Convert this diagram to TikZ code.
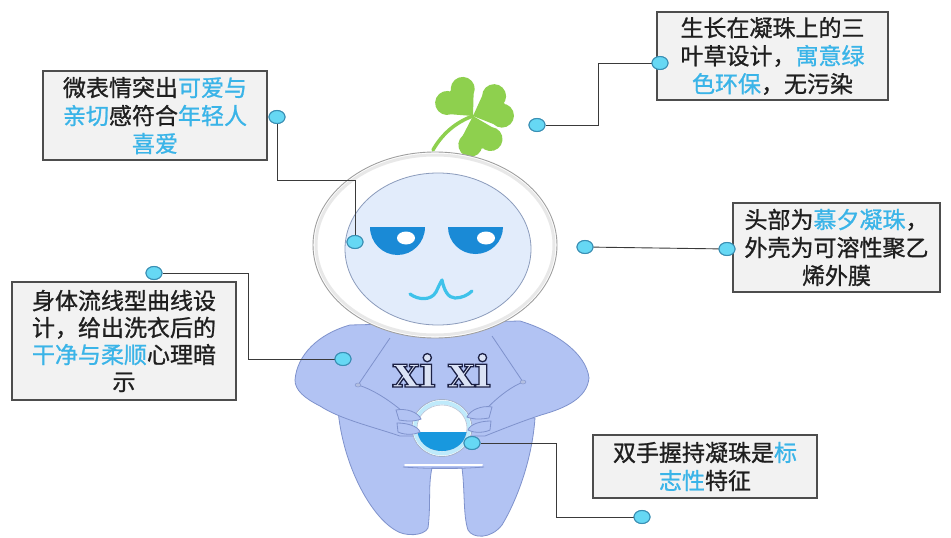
\documentclass[tikz,border=0pt]{standalone}
\usepackage{fontspec}
\newfontfamily\cjk[FakeBold=1]{Noto Sans CJK SC}
\newfontfamily\slab{DejaVu Serif}[BoldFont={DejaVu Serif Bold}]
\usetikzlibrary{shapes.geometric}

\definecolor{boxfill}{HTML}{F2F2F2}
\definecolor{boxline}{HTML}{4D4D4D}
\definecolor{hl}{HTML}{3AB4E8}
\definecolor{dotfill}{HTML}{66D8F4}
\definecolor{dotline}{HTML}{3A8FB4}
\definecolor{wirecol}{HTML}{3A3A3A}
\definecolor{skin}{HTML}{B2C3F3}
\definecolor{skinline}{HTML}{7F92CC}
\definecolor{face}{HTML}{E2ECFB}
\definecolor{faceline}{HTML}{8C9CBC}
\definecolor{eye}{HTML}{1A8AD6}
\definecolor{mouthcol}{HTML}{3EC2EA}
\definecolor{leaf}{HTML}{8ED04E}
\definecolor{water}{HTML}{1898DE}
\definecolor{letter}{HTML}{DCE3F6}

% outlined lettering: light fill, dark navy stroke
\newcommand\outlined[1]{\special{pdf:code 2 Tr 1.3 w 0.86 0.89 0.96 rg 0.11 0.13 0.27 RG}#1\special{pdf:code 0 Tr}}

\tikzset{
  note/.style={draw=boxline, fill=boxfill, line width=1.1pt, inner sep=0pt,
    font=\cjk\fontsize{23}{28}\selectfont, align=center, text=black!88},
  pin/.style={ellipse, draw=dotline, fill=dotfill, line width=1pt,
    minimum width=16pt, minimum height=13pt, inner sep=0pt},
  wire/.style={draw=wirecol, line width=0.9pt},
  bodyline/.style={draw=skinline, line width=0.8pt},
  xitext/.style={font=\slab\bfseries\fontsize{44}{44}\selectfont, inner sep=0pt, anchor=base, text=letter}
}

\begin{document}
\begin{tikzpicture}[x=1pt,y=-1pt]
\useasboundingbox (0,0) rectangle (951,538);
\fill[white] (0,0) rectangle (951,538);

% ---------- text boxes ----------
\node[note, minimum width=224pt, minimum height=89pt] (b1) at (155,115.5)
  {微表情突出\textcolor{hl}{可爱与}\\\textcolor{hl}{亲切}感符合\textcolor{hl}{年轻人}\\\textcolor{hl}{喜爱}};
\node[note, minimum width=231pt, minimum height=88pt] (b2) at (772.5,56)
  {生长在凝珠上的三\\叶草设计，\textcolor{hl}{寓意绿}\\\textcolor{hl}{色环保}，无污染};
\node[note, minimum width=207pt, minimum height=89pt] (b3) at (836.5,247.5)
  {头部为\textcolor{hl}{慕夕凝珠}，\\外壳为可溶性聚乙\\烯外膜};
\node[note, minimum width=224pt, minimum height=118pt, font=\cjk\fontsize{23}{27}\selectfont] (b4) at (124,341)
  {身体流线型曲线设\\计，给出洗衣后的\\\textcolor{hl}{干净与柔顺}心理暗\\示};
\node[note, minimum width=224pt, minimum height=63pt] (b5) at (705,466.5)
  {双手握持凝珠是\textcolor{hl}{标}\\\textcolor{hl}{志性}特征};

% ---------- clover ----------
\draw[leaf, line width=3.5pt, line cap=round] (433,150) .. controls (442,134) and (456,122) .. (473,116);
\begin{scope}[shift={(473,116)}]
  \foreach \a in {132,22,-74}
    \fill[leaf, rotate=\a] (27,-10.5) circle[radius=12] (27,10.5) circle[radius=12]
      (0,0) -- (20,-19) -- (34,0) -- (20,19) -- cycle;
\end{scope}

% ---------- lower body and legs ----------
\filldraw[fill=skin, bodyline]
  (338,410) .. controls (343,465) and (370,515) .. (395,530)
  .. controls (405,537) and (424,536) .. (428,528)
  .. controls (431,505) and (428,485) .. (432,468) -- (462,468)
  .. controls (465,490) and (463,515) .. (468,530)
  .. controls (473,539) and (491,539) .. (502,525)
  .. controls (517,500) and (532,460) .. (535,418) -- cycle;
\draw[white, line width=2pt, line cap=round] (405,465) -- (482,465);
\draw[bodyline] (403,467) .. controls (430,469) and (460,469) .. (484,467);

% ---------- torso and arms ----------
\filldraw[fill=skin, bodyline]
  (295,380) .. controls (297,355) and (318,334) .. (350,325) -- (520,321)
  .. controls (553,331) and (586,352) .. (589,378)
  .. controls (587,398) and (566,408) .. (541,415)
  .. controls (520,422) and (500,430) .. (485,436) -- (400,436)
  .. controls (370,426) and (340,419) .. (320,406)
  .. controls (304,398) and (295,390) .. (295,380) -- cycle;
% seams
\draw[bodyline] (390,338) -- (358,385) .. controls (375,390) and (395,404) .. (410,418);
\draw[bodyline] (492,336) -- (523,382) .. controls (506,389) and (490,404) .. (478,418);
\filldraw[fill=skinline!60, draw=skinline] (358,385) ellipse[x radius=3, y radius=2];
\filldraw[fill=skinline!60, draw=skinline] (523,382) ellipse[x radius=3, y radius=2];

% ---------- the held bead ----------
\filldraw[fill=white, draw=faceline!80, line width=0.8pt] (442,428) ellipse[x radius=30, y radius=28.5];
\draw[cyan!25, line width=4pt] (442,428) ellipse[x radius=27, y radius=25.5];
\filldraw[fill=white, draw=faceline!60, line width=0.6pt] (442,428) ellipse[x radius=25, y radius=23];
\fill[water] (417.4,432) .. controls (420,446) and (432,451) .. (442,451) .. controls (452,451) and (464,446) .. (466.6,432) -- cycle;

% ---------- hands ----------
\filldraw[fill=skin, bodyline] (396,410) .. controls (406,408) and (418,412) .. (421,419)
  .. controls (414,422) and (405,421) .. (399,420) -- cycle;
\filldraw[fill=skin, bodyline] (397,423) .. controls (407,423) and (418,426) .. (420,432)
  .. controls (412,436) and (402,434) .. (398,432) -- cycle;
\filldraw[fill=skin, bodyline] (492,407) .. controls (482,405) and (470,410) .. (467,417)
  .. controls (474,420) and (483,419) .. (489,418) -- cycle;
\filldraw[fill=skin, bodyline] (491,421) .. controls (481,421) and (470,424) .. (468,430)
  .. controls (476,434) and (486,432) .. (490,430) -- cycle;

% ---------- chest lettering ----------
\node[xitext] (xt) at (442,387) {\outlined{xi\hspace{-3pt} xi}};

% ---------- head ----------
\filldraw[fill=white, draw=gray!75, line width=0.9pt] (435,245) ellipse[x radius=122, y radius=93];
\draw[gray!18, line width=3pt] (435,245) ellipse[x radius=119, y radius=90];
\filldraw[fill=face, draw=faceline, line width=0.8pt] (438,249) ellipse[x radius=93, y radius=76];
% eyes
\fill[eye] (370,227) -- (425,227) arc[start angle=0, end angle=180, x radius=27.5, y radius=28] -- cycle;
\fill[eye] (448,227) -- (503,227) arc[start angle=0, end angle=180, x radius=27.5, y radius=27] -- cycle;
\fill[white] (406,238) ellipse[x radius=9, y radius=6.5];
\fill[white] (486,238) ellipse[x radius=9, y radius=6.5];
% mouth
\draw[mouthcol, line width=3.2pt, line cap=round, line join=round]
  (410,294) .. controls (418,300) and (431,301) .. (436,292) .. controls (438,288) and (440,283) .. (442,280)
  .. controls (444,290) and (448,298) .. (455,298) .. controls (462,298) and (468,295) .. (472,291);

% ---------- pins and connectors ----------
\node[pin] (d1) at (277,117) {};
\node[pin] (d1b) at (355,242) {};
\node[pin] (d2) at (660,63) {};
\node[pin] (d2b) at (537,125) {};
\node[pin] (d3) at (727,249) {};
\node[pin] (d3b) at (585,247) {};
\node[pin] (d4) at (154,273) {};
\node[pin] (d4b) at (343,359) {};
\node[pin] (d5) at (642,517) {};
\node[pin] (d5b) at (472,443) {};

\coordinate (k1) at (355,180);
\coordinate (k2a) at (598,63);
\coordinate (k2b) at (598,125);
\coordinate (k4a) at (248,273);
\coordinate (k4b) at (248,359);
\coordinate (k5a) at (556,443);
\coordinate (k5b) at (556,517);

\draw[wire] (d1) |- (k1) -- (d1b);
\draw[wire] (d2) -- (k2a) -- (k2b) -- (d2b);
\draw[wire] (d3) -- (d3b);
\draw[wire] (d4) -- (k4a) -- (k4b) -- (d4b);
\draw[wire] (d5b) -- (k5a) -- (k5b) -- (d5);

% pins drawn again above their wires
\foreach \p in {d1,d1b,d2,d2b,d3,d3b,d4,d4b,d5,d5b}
  \filldraw[fill=dotfill, draw=dotline, line width=1pt] (\p.center) ellipse[x radius=8, y radius=6.5];
\end{tikzpicture}
\end{document}
